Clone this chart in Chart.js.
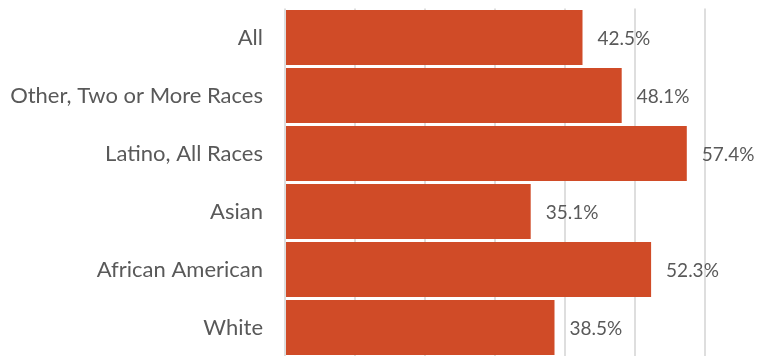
<!DOCTYPE html>
<html>
<head>
<meta charset="utf-8">
<script src="https://cdn.jsdelivr.net/npm/chart.js@4/dist/chart.umd.min.js"></script>
<style>
    html, body { margin: 0; padding: 0; background: #ffffff; }
    #wrap { width: 763px; height: 356px; overflow: hidden; position: relative; }
    #box { width: 800px; height: 400px; }
</style>
</head>
<body>
<div id="wrap"><div id="box"><canvas id="raceChart"></canvas></div></div>
<script>
// Categories and values (percent)
const categories = ['All', 'Other, Two or More Races', 'Latino, All Races', 'Asian', 'African American', 'White'];
const shares = [42.5, 48.1, 57.4, 35.1, 52.3, 38.5];
const valueLabels = ['42.5%', '48.1%', '57.4%', '35.1%', '52.3%', '38.5%'];

const textColor = '#595959';
const fontFamily = 'Lato, "Open Sans", sans-serif';

// Draw the value text just past the end of each bar
const valueLabelPlugin = {
    id: 'valueLabels',
    afterDatasetsDraw(chart) {
        const ctx = chart.ctx;
        const meta = chart.getDatasetMeta(0);
        ctx.save();
        ctx.font = '19px ' + fontFamily;
        ctx.fillStyle = textColor;
        ctx.textAlign = 'left';
        ctx.textBaseline = 'middle';
        meta.data.forEach(function(bar, i) {
            ctx.fillText(valueLabels[i], bar.x + 15, bar.y + 1);
        });
        ctx.restore();
    }
};

new Chart(document.getElementById('raceChart'), {
    type: 'bar',
    data: {
        labels: categories,
        datasets: [{
            data: shares,
            backgroundColor: '#D04B27',
            borderWidth: 0,
            categoryPercentage: 1,
            barPercentage: 0.95
        }]
    },
    options: {
        indexAxis: 'y',
        responsive: true,
        maintainAspectRatio: false,
        animation: false,
        // plot area runs past the right and bottom edges, like the cropped original
        layout: { padding: { top: 8.5, bottom: 43.5, left: 0, right: 25 } },
        plugins: {
            legend: { display: false },
            tooltip: { enabled: false }
        },
        scales: {
            x: {
                min: 0,
                max: 70,
                ticks: { display: false, stepSize: 10 },
                grid: { color: '#dedede', lineWidth: 2, drawTicks: false },
                border: { display: false },
                afterFit: function(scale) { scale.height = 0; }
            },
            y: {
                grid: { display: false, drawTicks: false },
                border: { display: false },
                ticks: {
                    color: textColor,
                    padding: 22,
                    font: { family: fontFamily, size: 22 }
                },
                afterFit: function(scale) {
                    scale.width = 285;
                    scale.paddingTop = 0;
                    scale.paddingBottom = 0;
                }
            }
        }
    },
    plugins: [valueLabelPlugin]
});
</script>
</body>
</html>
